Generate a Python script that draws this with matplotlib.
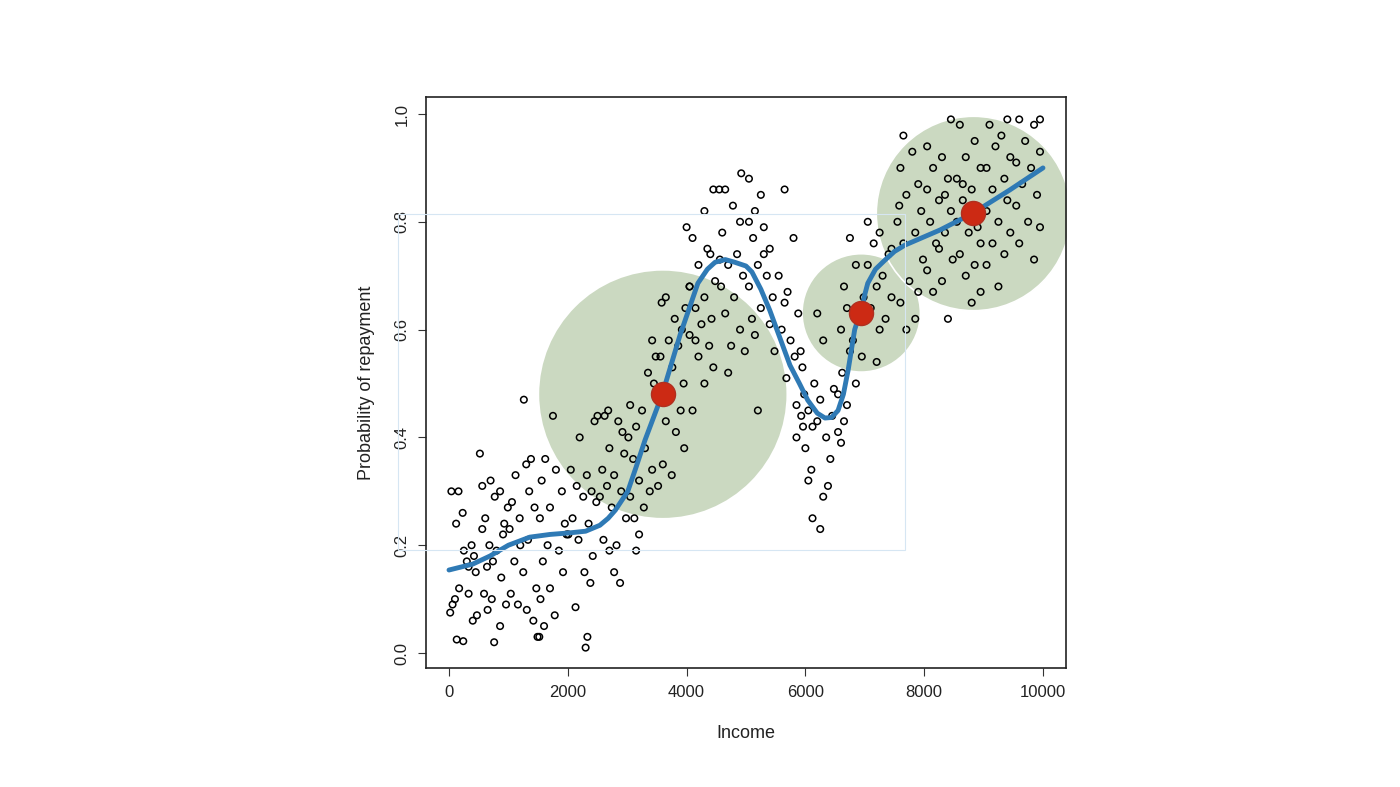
import matplotlib.pyplot as plt
from matplotlib.patches import Rectangle

plt.rcParams['font.family'] = ['Liberation Sans', 'DejaVu Sans']

# scatter points (income, probability)
points = [
    (40, 0.30), (160, 0.30), (120, 0.24), (230, 0.26), (250, 0.19), (380, 0.20), (300, 0.17),
    (420, 0.18), (170, 0.12), (60, 0.09), (20, 0.075), (100, 0.10), (330, 0.11), (130, 0.025),
    (240, 0.022), (400, 0.06), (470, 0.07), (520, 0.37), (330, 0.16), (450, 0.15),
    (560, 0.31), (700, 0.32), (770, 0.29), (860, 0.30), (610, 0.25), (930, 0.24), (560, 0.23),
    (680, 0.20), (800, 0.19), (740, 0.17), (640, 0.16), (880, 0.14), (590, 0.11), (720, 0.10),
    (960, 0.09), (650, 0.08), (860, 0.05), (760, 0.02), (990, 0.27), (910, 0.22),
    (1260, 0.47), (1380, 0.36), (1300, 0.35), (1120, 0.33), (1060, 0.28), (1440, 0.27),
    (1190, 0.25), (1020, 0.23), (1330, 0.21), (1100, 0.17), (1250, 0.15), (1470, 0.12),
    (1040, 0.11), (1160, 0.09), (1310, 0.08), (1420, 0.06), (1490, 0.03), (1200, 0.20), (1350, 0.30),
    (1750, 0.44), (1620, 0.36), (1800, 0.34), (1560, 0.32), (1900, 0.30), (1700, 0.27),
    (1530, 0.25), (1950, 0.24), (1660, 0.20), (1850, 0.19), (1580, 0.17), (1920, 0.15),
    (1700, 0.12), (1540, 0.10), (1780, 0.07), (1600, 0.05), (1520, 0.03), (1980, 0.22),
    (2200, 0.40), (2050, 0.34), (2320, 0.33), (2150, 0.31), (2400, 0.30), (2260, 0.29),
    (2080, 0.25), (2350, 0.24), (2180, 0.21), (2420, 0.18), (2280, 0.15), (2380, 0.13),
    (2130, 0.085), (2330, 0.03), (2300, 0.01), (2480, 0.28), (2010, 0.22), (2500, 0.44), (2450, 0.43),
    (2620, 0.44), (2850, 0.43), (2700, 0.38), (2950, 0.37), (2580, 0.34), (2780, 0.33),
    (2660, 0.31), (2900, 0.30), (2540, 0.29), (2740, 0.27), (2980, 0.25), (2600, 0.21),
    (2820, 0.20), (2700, 0.19), (2780, 0.15), (2880, 0.13), (2920, 0.41), (2680, 0.45),
    (3050, 0.46), (3250, 0.45), (3150, 0.42), (3020, 0.40), (3300, 0.38), (3100, 0.36),
    (3420, 0.34), (3200, 0.32), (3380, 0.30), (3050, 0.29), (3280, 0.27), (3120, 0.25),
    (3200, 0.22), (3150, 0.19), (3450, 0.50), (3350, 0.52), (3480, 0.55), (3420, 0.58),
    (3650, 0.66), (3580, 0.65), (3800, 0.62), (3920, 0.60), (3700, 0.58), (3860, 0.57),
    (3560, 0.55), (3760, 0.53), (3950, 0.50), (3520, 0.47), (3900, 0.45), (3650, 0.43),
    (3820, 0.41), (3960, 0.38), (3600, 0.35), (3750, 0.33), (3520, 0.31), (3980, 0.64),
    (4050, 0.68), (4000, 0.79), (4100, 0.77), (4350, 0.75), (4200, 0.72), (4480, 0.69),
    (4050, 0.68), (4300, 0.66), (4150, 0.64), (4420, 0.62), (4250, 0.61), (4050, 0.59),
    (4380, 0.57), (4200, 0.55), (4450, 0.53), (4300, 0.50), (4100, 0.45), (4300, 0.82),
    (4450, 0.86), (4400, 0.74), (4150, 0.58),
    (4550, 0.86), (4650, 0.86), (4780, 0.83), (4900, 0.80), (4600, 0.78), (4850, 0.74),
    (4700, 0.72), (4950, 0.70), (4580, 0.68), (4800, 0.66), (4650, 0.63), (4900, 0.60),
    (4750, 0.57), (4980, 0.56), (4920, 0.89), (4560, 0.73), (4700, 0.52),
    (5050, 0.88), (5250, 0.85), (5150, 0.82), (5050, 0.80), (5300, 0.79), (5120, 0.77),
    (5400, 0.75), (5200, 0.72), (5350, 0.70), (5050, 0.68), (5450, 0.66), (5250, 0.64),
    (5400, 0.61), (5150, 0.59), (5480, 0.56), (5200, 0.45), (5300, 0.74), (5100, 0.62),
    (5650, 0.86), (5800, 0.77), (5550, 0.70), (5700, 0.67), (5880, 0.63), (5600, 0.60),
    (5750, 0.58), (5920, 0.56), (5820, 0.55), (5950, 0.53), (5680, 0.51), (5980, 0.48),
    (5850, 0.46), (5930, 0.44), (5960, 0.42), (5850, 0.40), (5650, 0.65),
    (6150, 0.50), (6250, 0.47), (6050, 0.45), (6200, 0.43), (6120, 0.42), (6350, 0.40),
    (6000, 0.38), (6420, 0.36), (6100, 0.34), (6050, 0.32), (6380, 0.31), (6300, 0.29),
    (6120, 0.25), (6250, 0.23), (6450, 0.44), (6300, 0.58), (6200, 0.63), (6480, 0.49),
    (6750, 0.77), (6850, 0.72), (6650, 0.68), (6980, 0.66), (6700, 0.64), (6900, 0.62),
    (6600, 0.60), (6800, 0.58), (6950, 0.55), (6620, 0.52), (6850, 0.50), (6550, 0.48),
    (6700, 0.46), (6650, 0.43), (6550, 0.41), (6600, 0.39), (6750, 0.56),
    (7050, 0.80), (7250, 0.78), (7150, 0.76), (7400, 0.74), (7050, 0.72), (7300, 0.70),
    (7200, 0.68), (7450, 0.66), (7100, 0.64), (7350, 0.62), (7250, 0.60), (7200, 0.54), (7450, 0.75),
    (7650, 0.96), (7800, 0.93), (7600, 0.90), (7900, 0.87), (7700, 0.85), (7950, 0.82),
    (7550, 0.80), (7850, 0.78), (7650, 0.76), (7980, 0.73), (7750, 0.69), (7900, 0.67),
    (7600, 0.65), (7850, 0.62), (7700, 0.60), (7580, 0.83),
    (8050, 0.94), (8300, 0.92), (8150, 0.90), (8400, 0.88), (8050, 0.86), (8250, 0.84),
    (8450, 0.82), (8100, 0.80), (8350, 0.78), (8200, 0.76), (8480, 0.73), (8050, 0.71),
    (8300, 0.69), (8150, 0.67), (8400, 0.62), (8450, 0.99), (8350, 0.85), (8250, 0.75),
    (8600, 0.98), (8850, 0.95), (8700, 0.92), (8950, 0.90), (8550, 0.88), (8800, 0.86),
    (8650, 0.84), (8900, 0.82), (8550, 0.80), (8750, 0.78), (8950, 0.76), (8600, 0.74),
    (8850, 0.72), (8700, 0.70), (8950, 0.67), (8800, 0.65), (8650, 0.87), (8900, 0.79),
    (9100, 0.98), (9300, 0.96), (9200, 0.94), (9450, 0.92), (9050, 0.90), (9350, 0.88),
    (9150, 0.86), (9400, 0.84), (9050, 0.82), (9250, 0.80), (9450, 0.78), (9150, 0.76),
    (9350, 0.74), (9050, 0.72), (9250, 0.68), (9400, 0.99),
    (9600, 0.99), (9850, 0.98), (9700, 0.95), (9950, 0.93), (9550, 0.91), (9800, 0.90),
    (9650, 0.87), (9900, 0.85), (9550, 0.83), (9750, 0.80), (9950, 0.79), (9600, 0.76),
    (9850, 0.73), (9950, 0.99),
]
px = [p[0] for p in points]
py = [p[1] for p in points]

# smooth fit curve
curve_x = [0, 400, 690, 1000, 1360, 1700, 2040, 2300, 2540, 2680, 2800, 3010, 3150, 3300, 3590,
           3890, 4190, 4350, 4480, 4650, 4810, 5000, 5100, 5250, 5400, 5570, 5740, 5900, 6040,
           6200, 6330, 6440, 6550, 6640, 6720, 6830, 6880, 6940, 7000, 7050, 7180, 7340, 7500,
           7680, 8270, 8820, 9440, 10000]
curve_y = [0.154, 0.165, 0.18, 0.20, 0.215, 0.22, 0.223, 0.226, 0.237, 0.25, 0.265, 0.30, 0.345,
           0.395, 0.48, 0.59, 0.686, 0.712, 0.725, 0.73, 0.725, 0.718, 0.707, 0.675, 0.636,
           0.585, 0.534, 0.50, 0.469, 0.445, 0.436, 0.437, 0.45, 0.48, 0.525, 0.60, 0.617,
           0.631, 0.665, 0.686, 0.712, 0.729, 0.745, 0.757, 0.785, 0.816, 0.859, 0.90]

# neighbourhood centres (x, y) and radius in points
centres_x = [3600, 6940, 8820]
centres_y = [0.48, 0.631, 0.816]
radii_pt = [89, 42, 70]

fig = plt.figure(figsize=(14, 7.87), dpi=100)
ax = fig.add_axes([0.3043, 0.1512, 0.4571, 0.7255])

edges = ['none', 'none', 'white']
for cx, cy, r, ec in zip(centres_x, centres_y, radii_pt, edges):
    ax.scatter([cx], [cy], s=(2 * r) ** 2, color='#cbd9c1', edgecolors=ec, linewidths=1.2, zorder=1)

ax.scatter(px, py, s=22, facecolors='none', edgecolors='black', linewidths=1.1, zorder=2)
ax.plot(curve_x, curve_y, color='#2f7ab5', lw=3.5, zorder=3, solid_capstyle='round',
        solid_joinstyle='round')
ax.scatter(centres_x, centres_y, s=300, color='#cc2a14', edgecolors='#b03020', zorder=4)

ax.set_xlim(-387, 10387)
ax.set_ylim(-0.0278, 1.0315)
ax.set_xticks([0, 2000, 4000, 6000, 8000, 10000])
ax.set_yticks([0.0, 0.2, 0.4, 0.6, 0.8, 1.0])
ax.set_yticklabels(['0.0', '0.2', '0.4', '0.6', '0.8', '1.0'], rotation=90, va='center')
ax.tick_params(labelsize=12, length=6, color='#333333', labelcolor='#222222', pad=6)
ax.set_xlabel('Income', fontsize=13, color='#222222', labelpad=18)
ax.set_ylabel('Probability of repayment', fontsize=13, color='#222222', labelpad=14)
for s in ax.spines.values():
    s.set_color('#222222')
    s.set_linewidth(1.2)

# faint leftover frame
fig.patches.append(Rectangle((398 / 1400, 1 - 550 / 787), 507 / 1400, 336 / 787,
                             transform=fig.transFigure, fill=False, edgecolor='#d6e6f3',
                             lw=0.8, zorder=0))

fig.savefig('out.png', dpi=100)
